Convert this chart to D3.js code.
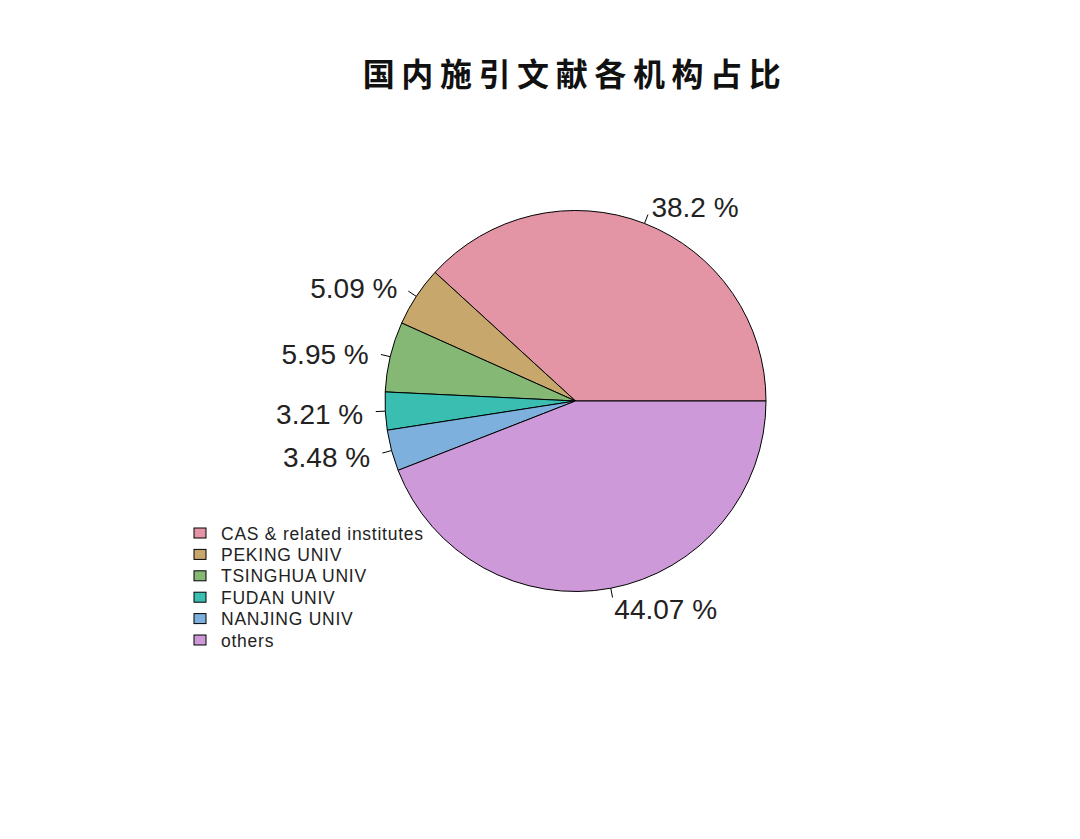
<!DOCTYPE html>
<html><head><meta charset="utf-8">
<script src="https://cdn.jsdelivr.net/npm/d3@7"></script>
<style>body{margin:0;background:#fff}</style>
</head><body>
<svg id="c" width="1080" height="839"></svg>
<script>
const categories = ["CAS & related institutes","PEKING UNIV","TSINGHUA UNIV","FUDAN UNIV","NANJING UNIV","others"];
const values = [38.2, 5.09, 5.95, 3.21, 3.48, 44.07];
const labels = ["38.2 %","5.09 %","5.95 %","3.21 %","3.48 %","44.07 %"];
const colors = ["#E495A5","#C7A76C","#86B875","#39BEB1","#7DB0DD","#CD99D8"];
const title = "国内施引文献各机构占比";

const svg = d3.select("#c");
const cx = 575.5, cy = 401, R = 190.5;

svg.append("text").attr("x", 575).attr("y", 86).attr("text-anchor","middle")
  .attr("font-family","'Noto Sans CJK SC'").attr("font-weight",700)
  .attr("font-size",32).attr("letter-spacing",6.6).attr("fill","#111").text(title);

// R-style pie: start at 3 o'clock, counter-clockwise
const total = d3.sum(values);
const angScale = d3.scaleLinear().domain([0,total]).range([0, 2*Math.PI]);
let cum = 0;
const slices = values.map((v,i)=>{ const s=cum; cum+=v; return {i, a0:angScale(s), a1:angScale(cum)}; });
const toD3 = a => Math.PI/2 - a;
const arc = d3.arc().innerRadius(0).outerRadius(R);
const g = svg.append("g").attr("transform",`translate(${cx},${cy})`);
g.selectAll("path.s").data(slices).join("path")
  .attr("d", d => arc({startAngle: toD3(d.a1), endAngle: toD3(d.a0)}))
  .attr("fill", d=>colors[d.i]).attr("stroke","#000").attr("stroke-width",1);

slices.forEach(d=>{
  const m = (d.a0+d.a1)/2, c = Math.cos(m), s = Math.sin(m);
  g.append("line").attr("x1",R*c).attr("y1",-R*s).attr("x2",1.05*R*c).attr("y2",-1.05*R*s)
    .attr("stroke","#000").attr("stroke-width",1);
  g.append("text").attr("x",1.1*R*c - (c<0?3:0)).attr("y",-1.1*R*s).attr("dy","0.42em")
    .attr("text-anchor", c<0 ? "end":"start")
    .attr("font-family","'Liberation Sans', Arial, sans-serif").attr("font-size",28)
    .attr("fill","#222").text(labels[d.i]);
});

// legend
const lg = svg.append("g");
const ly = d3.scalePoint().domain(categories).range([533, 640]);
categories.forEach((c,i)=>{
  lg.append("rect").attr("x",194).attr("y",ly(c)-5).attr("width",12).attr("height",10)
    .attr("fill",colors[i]).attr("stroke","#000").attr("stroke-width",1);
  lg.append("text").attr("x",221).attr("y",ly(c)).attr("dy","0.38em")
    .attr("font-family","'Liberation Sans', Arial, sans-serif").attr("font-size",17.5)
    .attr("letter-spacing",0.75)
    .attr("fill","#222").text(c);
});
</script>
</body></html>
